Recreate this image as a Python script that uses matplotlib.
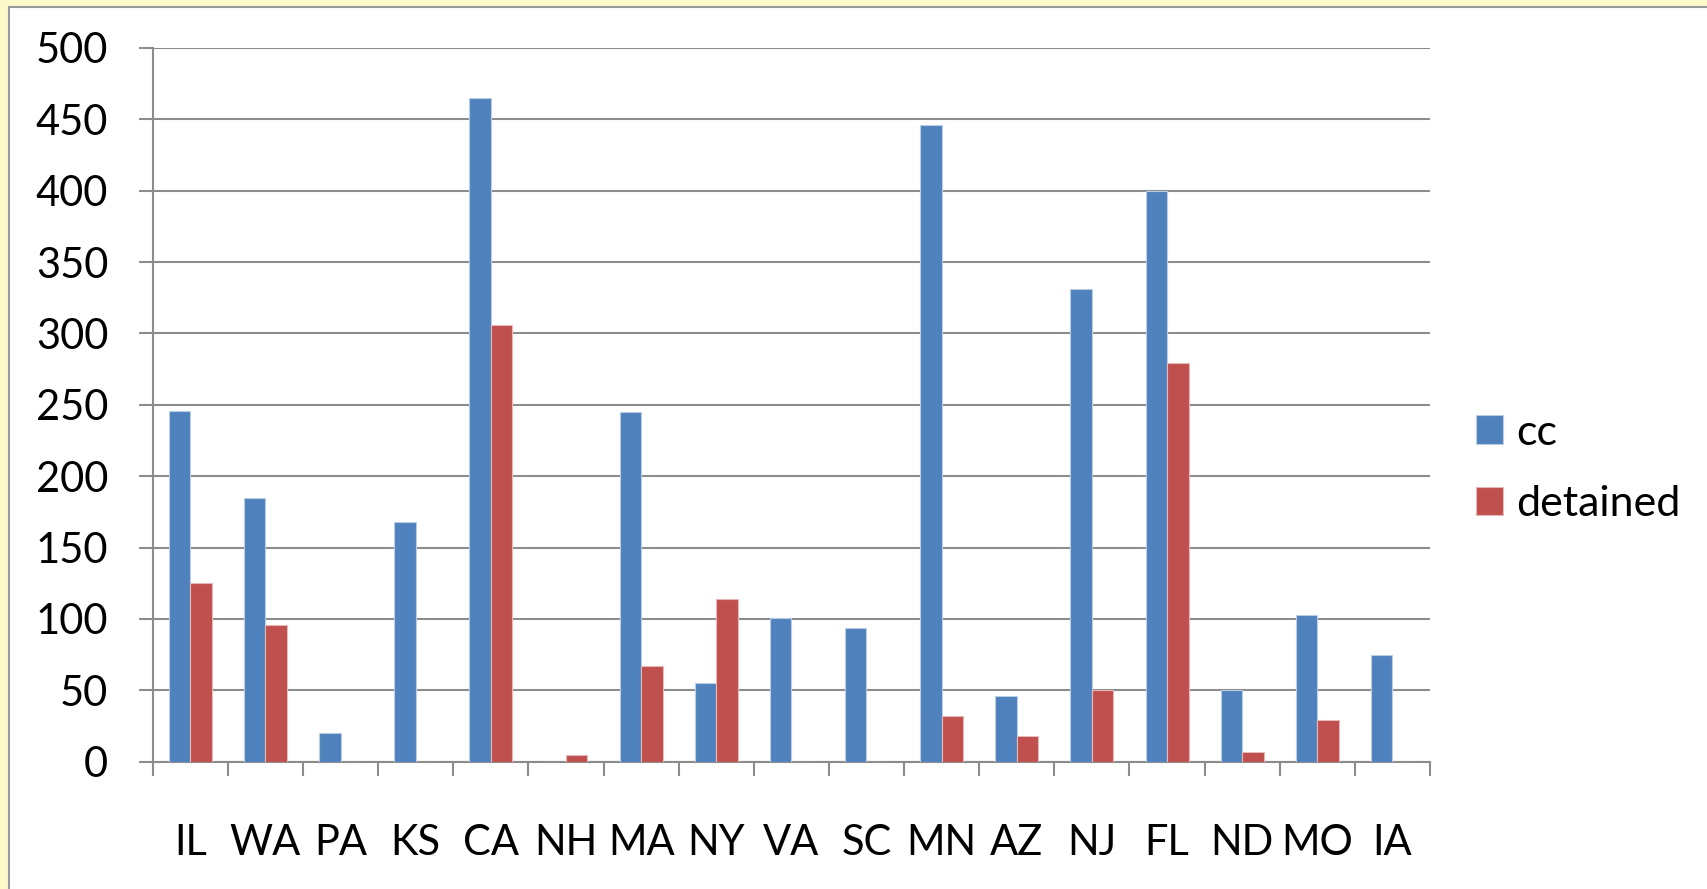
## bar chart: cc vs detained by state
import numpy as np
import matplotlib.pyplot as plt
from matplotlib.patches import Rectangle

## data
states = ['IL', 'WA', 'PA', 'KS', 'CA', 'NH', 'MA', 'NY', 'VA', 'SC',
          'MN', 'AZ', 'NJ', 'FL', 'ND', 'MO', 'IA']
cc = [246, 185, 20, 168, 465, 0, 245, 55, 101, 94, 446, 46, 331, 400, 50, 103, 75]
detained = [125, 96, 0, 0, 306, 5, 67, 114, 0, 0, 32, 18, 50, 279, 7, 29, 0]
yticks = [0, 50, 100, 150, 200, 250, 300, 350, 400, 450, 500]

plt.rcParams['font.family'] = ['Lato', 'DejaVu Sans']

W, H = 1707, 889
fig = plt.figure(figsize=(W / 100, H / 100), dpi=100, facecolor='#FEF9CB')

## white chart area with grey border
fig.patches.append(Rectangle((8.5 / W, -0.01), 1.02, 1 - 6.5 / H + 0.01,
                             transform=fig.transFigure, facecolor='white',
                             edgecolor='#9a9a9a', linewidth=1.5, zorder=-10))

ax = fig.add_axes([152.7 / W, 1 - 761.7 / H, (1430 - 152.7) / W, (761.7 - 48) / H])
ax.set_facecolor('none')

x = np.arange(len(states))
bw = 0.286
ax.bar(x - bw / 2, cc, width=bw, color='#4F81BD', edgecolor='#b9cde5',
       linewidth=0.8, label='cc', zorder=3)
ax.bar(x + bw / 2, detained, width=bw, color='#C0504D', edgecolor='#e6b9b8',
       linewidth=0.8, label='detained', zorder=3)

ax.set_xlim(-0.5, len(states) - 0.5)
ax.set_ylim(0, 500)
ax.set_yticks(yticks)
ax.set_yticklabels([str(v) for v in yticks])
ax.yaxis.grid(True, color='#8c8c8c', linewidth=1.5, zorder=1)
ax.set_axisbelow(True)

## category labels in the middle, tick marks on boundaries
ax.set_xticks(x)
ax.set_xticklabels(states)
ax.set_xticks(np.arange(len(states) + 1) - 0.5, minor=True)
ax.tick_params(axis='x', which='major', length=0, pad=45, labelsize=30)
ax.tick_params(axis='x', which='minor', length=10, width=1.5, color='#8c8c8c')
ax.tick_params(axis='y', length=10, width=1.5, color='#8c8c8c', pad=22, labelsize=30)

for s in ['top', 'right']:
    ax.spines[s].set_visible(False)
for s in ['left', 'bottom']:
    ax.spines[s].set_color('#8c8c8c')
    ax.spines[s].set_linewidth(1.5)

ax.legend(loc='center left', bbox_to_anchor=(1.019, 0.411), frameon=False,
          fontsize=31, handlelength=0.63, handleheight=0.63, borderpad=0,
          handletextpad=0.3, labelspacing=0.78)

fig.savefig('out.png', dpi=100, facecolor=fig.get_facecolor())
